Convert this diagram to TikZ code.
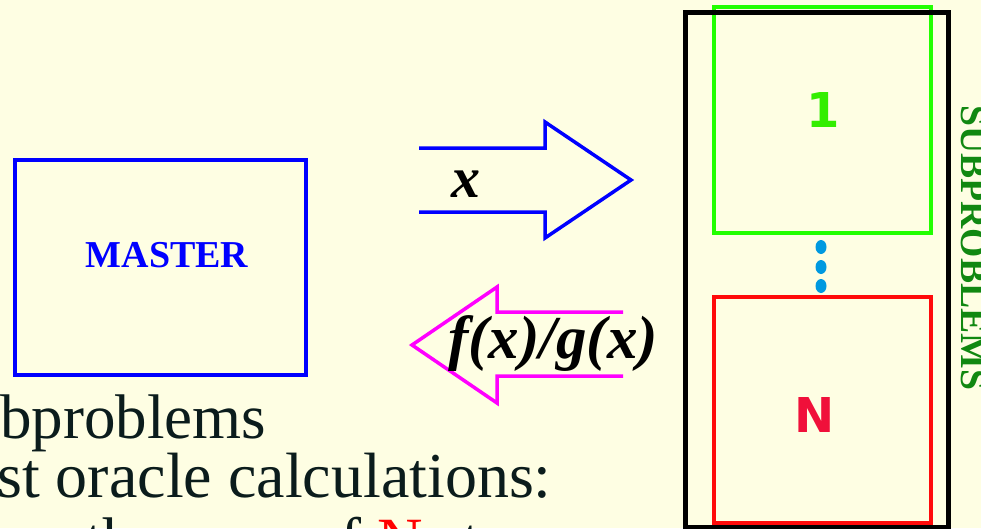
\documentclass[tikz,border=0pt]{standalone}
\usepackage{fontspec}
\setmainfont{Liberation Serif}
\newfontfamily\dvsans{DejaVu Sans}
\definecolor{bg}{HTML}{FEFEE3}
\definecolor{mblue}{HTML}{0000FF}
\definecolor{mmag}{HTML}{FF00FF}
\definecolor{mlime}{HTML}{22FF00}
\definecolor{onegreen}{HTML}{33EE00}
\definecolor{nred}{HTML}{F0103A}
\definecolor{boxred}{HTML}{FF0A0A}
\definecolor{dotblue}{HTML}{0099E0}
\definecolor{subgreen}{HTML}{118811}
\definecolor{bodytext}{HTML}{0B1C1C}
\begin{document}
\begin{tikzpicture}[x=1pt,y=-1pt,
  plainbox/.style={draw, inner sep=0pt, fill=none},
  fatarrow/.style={line width=3.5pt, line join=miter},
  bodyline/.style={inner sep=0pt, anchor=base west, text=bodytext, font=\fontsize{63}{63}\selectfont},
  subnum/.style={inner sep=0pt, font=\dvsans\bfseries\fontsize{48}{48}\selectfont}]
\useasboundingbox (0,0) rectangle (981,528);
\clip (0,0) rectangle (981,528);
\fill[bg] (0,0) rectangle (981,528);

% master
\node[plainbox, draw=mblue, line width=4pt, minimum width=291pt, minimum height=215pt] (master) at (160.5,267.5) {};
\node[inner sep=0pt, anchor=base, text=mblue, font=\bfseries\fontsize{38}{38}\selectfont] (mastertxt) at (167,267) {MASTER};

% subproblems frame
\node[plainbox, draw=mlime, line width=3.5pt, minimum width=217pt, minimum height=226pt] (sub1) at (822.5,120) {};
\node[plainbox, draw=black, line width=5pt, minimum width=263pt, minimum height=515pt] (frame) at (816.5,269.5) {};
\node[plainbox, draw=boxred, line width=3.5pt, minimum width=217pt, minimum height=226pt] (subN) at (822.5,410) {};
\node[subnum, text=onegreen] (one) at (823,110) {1};
\node[subnum, text=nred] (enn) at (815,415) {N};
\fill[dotblue] (821,247) ellipse [x radius=5.5pt, y radius=7pt];
\fill[dotblue] (821,267) ellipse [x radius=5.5pt, y radius=7pt];
\fill[dotblue] (821,286) ellipse [x radius=5.5pt, y radius=7pt];
\node[inner sep=0pt, anchor=base west, rotate=-90, text=subgreen, font=\bfseries\fontsize{37.7}{37.7}\selectfont] (subtxt) at (961,105) {SUBPROBLEMS};

% x arrow
\draw[fatarrow, mblue] (419,148) -- (545,148) -- (545,122) -- (631,180) -- (545,238) -- (545,212) -- (419,212);
\node[inner sep=0pt, anchor=base, font=\bfseries\itshape\fontsize{58}{58}\selectfont] (xlab) at (466,197) {x};

% f/g arrow
\draw[fatarrow, mmag] (623,312) -- (497,312) -- (497,287) -- (412,345) -- (497,403) -- (497,376) -- (623,376);
\node[inner sep=0pt, anchor=base, font=\bfseries\itshape\fontsize{61}{61}\selectfont] (fglab) at (553,358) {f(x)/g(x)};

% body text
\node[bodyline] (l1) at (0,438) {bproblems};
\node[bodyline, font=\fontsize{64}{64}\selectfont] (l2) at (-3,497) {st oracle calculations:};
\node[bodyline] (l3) at (85,561) {the sum \,of \textcolor{red}{N}\hspace{24pt} terms};
\end{tikzpicture}
\end{document}
